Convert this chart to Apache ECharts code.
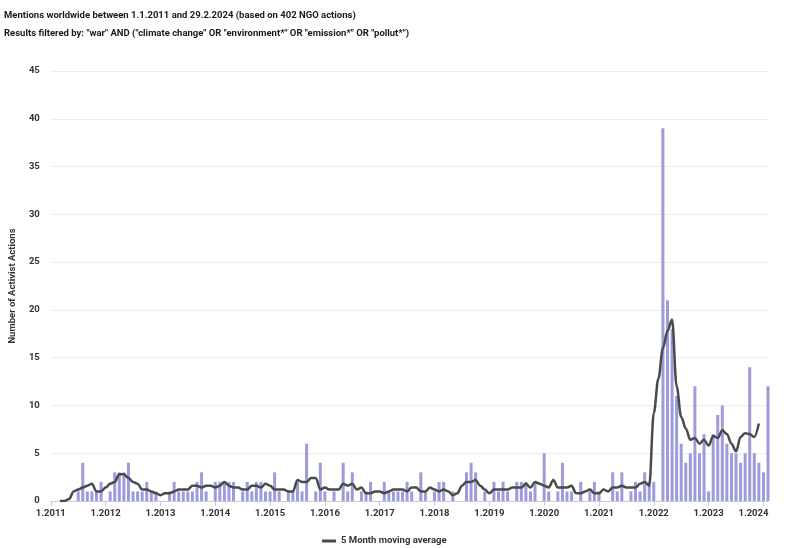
<!DOCTYPE html>
<html>
<head>
<meta charset="utf-8">
<script src="https://cdn.jsdelivr.net/npm/echarts@6/dist/echarts.min.js"></script>
<style>
html,body{margin:0;padding:0;background:#fff;}
#chart{width:789px;height:548px;}
</style>
</head>
<body>
<div id="chart"></div>
<script>
// Monthly categories Jan 2011 .. Feb 2024
var months = [];
for (var y = 2011; y <= 2024; y++) {
  for (var m = 1; m <= 12; m++) {
    if (y === 2024 && m > 2) break;
    months.push(m + '.' + y);
  }
}

// Number of activist actions per month
var actions = [
  0,0,0,0,0,0,1,4,1,1,1,2,          // 2011
  0,1,3,3,3,4,1,1,1,2,1,1,          // 2012
  0,0,1,2,1,1,1,1,2,3,1,0,          // 2013
  2,2,2,2,2,0,1,2,1,2,2,1,          // 2014
  1,3,1,0,1,1,2,1,6,0,1,4,          // 2015
  1,0,1,0,4,1,3,0,1,1,2,0,          // 2016
  0,2,1,1,1,1,2,1,0,3,1,0,          // 2017
  1,2,2,0,1,0,0,3,4,3,0,1,          // 2018
  0,2,1,2,1,0,2,2,2,1,2,0,          // 2019
  5,1,0,1,4,1,1,0,2,0,1,2,          // 2020
  1,0,0,3,1,3,0,1,2,1,3,2,          // 2021
  2,0,39,21,18,11,6,4,5,12,5,7,     // 2022
  1,7,9,10,6,5,5,4,5,14,5,4,        // 2023
  3,12                              // 2024
];

// 5 month moving average
var movingAvg = [
  null,null,0,0,0.2,1.0,1.2,1.4,1.6,1.8,1.0,1.0,                 // 2011
  1.4,1.8,2.0,2.8,2.8,2.4,2.0,1.8,1.2,1.2,1.0,0.8,               // 2012
  0.6,0.8,0.8,1.0,1.2,1.2,1.2,1.6,1.6,1.4,1.6,1.6,               // 2013
  1.4,1.6,2.0,1.6,1.4,1.4,1.2,1.2,1.6,1.6,1.4,1.8,               // 2014
  1.6,1.2,1.2,1.2,1.0,1.0,2.2,2.0,2.0,2.4,2.4,1.2,               // 2015
  1.4,1.2,1.2,1.2,1.8,1.6,1.8,1.2,1.4,0.8,0.8,1.0,               // 2016
  1.0,0.8,1.0,1.2,1.2,1.2,1.0,1.4,1.4,1.0,1.0,1.4,               // 2017
  1.2,1.0,1.2,1.0,0.6,0.8,1.6,2.0,2.0,2.2,1.6,1.2,               // 2018
  0.8,1.2,1.2,1.2,1.2,1.4,1.4,1.4,1.8,1.4,2.0,1.8,               // 2019
  1.6,1.4,2.2,1.4,1.4,1.4,1.6,0.8,0.8,1.0,1.2,0.8,               // 2020
  0.8,1.2,1.0,1.4,1.4,1.6,1.4,1.4,1.4,1.8,2.0,1.6,               // 2021
  9.2,12.8,16.0,17.8,19.0,12.0,8.8,7.6,6.4,6.6,6.0,6.4,          // 2022
  5.8,6.8,6.6,7.4,7.0,6.0,5.2,6.7,7.1,7.0,6.7,8.1,               // 2023
  null,null                                                      // 2024
];

var yTicks = { min: 0, max: 45, interval: 5 };

var titleLine1 = 'Mentions worldwide between 1.1.2011 and 29.2.2024 (based on 402 NGO actions)';
var titleLine2 = 'Results filtered by: "war" AND ("climate change" OR "environment*" OR "emission*" OR "pollut*")';
var yAxisTitle = 'Number of Activist Actions';
var avgName = '5 Month moving average';

var chart = echarts.init(document.getElementById('chart'), null, { renderer: 'canvas' });

var FONT = 'Roboto, "Noto Sans", sans-serif';

function isYearStart(index) { return index % 12 === 0; }

chart.setOption({
  animation: false,
  backgroundColor: '#ffffff',
  textStyle: { fontFamily: FONT },
  title: [
    { text: titleLine1, left: 4, top: 11, padding: 0,
      textStyle: { fontFamily: FONT, fontSize: 9.5, fontWeight: 'bold', color: '#1a1a1a' } },
    { text: titleLine2, left: 4, top: 29, padding: 0,
      textStyle: { fontFamily: FONT, fontSize: 9.5, fontWeight: 'bold', color: '#1a1a1a' } }
  ],
  legend: {
    data: [{ name: avgName, icon: 'rect' }],
    left: 317, top: 531,
    itemWidth: 14, itemHeight: 3, itemGap: 6,
    textStyle: { fontFamily: FONT, fontSize: 9.5, fontWeight: 'bold', color: '#333333' }
  },
  grid: { left: 43, right: 21, top: 71, bottom: 47, containLabel: false },
  xAxis: {
    type: 'category',
    data: months,
    boundaryGap: false,
    axisLine: { show: true, lineStyle: { color: '#c6c9e8', width: 1 } },
    axisTick: { show: true, interval: function (i) { return isYearStart(i); }, length: 5,
                lineStyle: { color: '#c6c9e8' } },
    axisLabel: {
      interval: function (i) { return isYearStart(i); },
      formatter: function (value, index) {
        return index >= months.length - 12 ? '{last|' + value + '}' : value;
      },
      rich: {
        last: { fontFamily: FONT, fontSize: 9.5, fontWeight: 'bold', color: '#333333', padding: [0, 20, 0, 0] }
      },
      fontFamily: FONT, fontSize: 9.5, fontWeight: 'bold', color: '#333333', margin: 8
    },
    splitLine: { show: false }
  },
  yAxis: {
    type: 'value',
    min: yTicks.min, max: yTicks.max, interval: yTicks.interval,
    name: yAxisTitle,
    nameLocation: 'middle',
    nameGap: 28,
    nameRotate: 90,
    nameTextStyle: { fontFamily: FONT, fontSize: 9.5, fontWeight: 'bold', color: '#333333' },
    axisLine: { show: false },
    axisTick: { show: false },
    axisLabel: { fontFamily: FONT, fontSize: 9.5, fontWeight: 'bold', color: '#333333', margin: 11 },
    splitLine: { show: true, lineStyle: { color: '#ececec', width: 1 } }
  },
  series: [
    {
      name: 'Actions',
      type: 'bar',
      data: actions,
      barWidth: 3,
      itemStyle: { color: '#9c9cdc' },
      z: 2
    },
    {
      name: avgName,
      type: 'line',
      data: movingAvg,
      smooth: 0.35,
      smoothMonotone: 'x',
      symbol: 'none',
      showSymbol: false,
      connectNulls: false,
      lineStyle: { color: '#4a4a4a', width: 2.5 },
      itemStyle: { color: '#4a4a4a' },
      z: 3
    }
  ]
});
</script>
</body>
</html>
